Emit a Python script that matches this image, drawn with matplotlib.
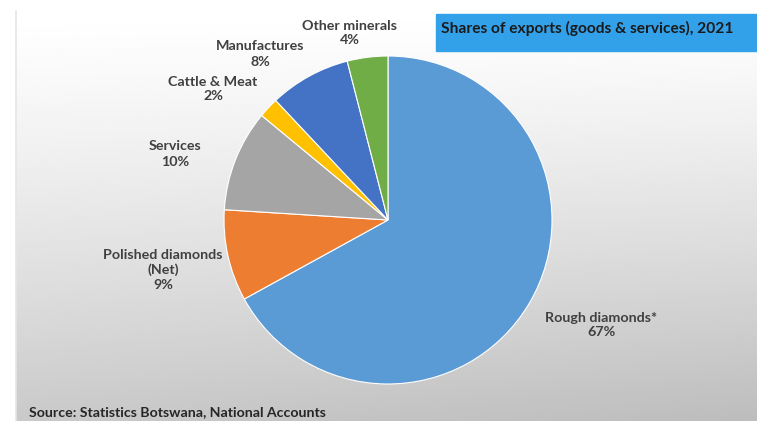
import numpy as np
import matplotlib.pyplot as plt
from matplotlib.patches import Rectangle

plt.rcParams['font.family'] = ['Lato', 'DejaVu Sans']

# export shares 2021, clockwise from 12 o'clock
sectors = ['Rough diamonds*', 'Polished diamonds\n(Net)', 'Services',
           'Cattle & Meat', 'Manufactures', 'Other minerals']
shares = [67, 9, 10, 2, 8, 4]
colors = ['#5B9BD5', '#ED7D31', '#A5A5A5', '#FFC000', '#4472C4', '#70AD47']

W, H = 757, 421
fig = plt.figure(figsize=(W / 100, H / 100), dpi=100)

# grey gradient panel behind the chart
bg = fig.add_axes([0, 0, 1, 1])
bg.set_xlim(0, W)
bg.set_ylim(H, 0)
bg.axis('off')
yy, xx = np.mgrid[0:1:200j, 0:1:200j]
shade = 1.0 - 0.21 * yy ** 1.2 - 0.05 * xx * yy
bg.imshow(shade, cmap='gray', vmin=0, vmax=1, extent=[16, W, H, 11],
          aspect='auto', interpolation='bilinear')
bg.plot([16, 16], [11, H], color='#e6e6e6', lw=1.2)

# title box
bg.add_patch(Rectangle((436, 14), 321, 37, color='#33A1EA'))
bg.text(441, 28, 'Shares of exports (goods & services), 2021', fontsize=11.2,
        fontweight='bold', color='#1a1a1a', va='center', ha='left')

bg.text(29, 412, 'Source: Statistics Botswana, National Accounts', fontsize=10.2,
        fontweight='bold', color='#262626', va='center', ha='left')

# pie, centre (388, 220), radius 164 px
r = 164
ax = fig.add_axes([(388 - r) / W, (H - 220 - r) / H, 2 * r / W, 2 * r / H])
ax.pie(shares, colors=colors, startangle=90, counterclock=False,
       wedgeprops=dict(edgecolor='white', linewidth=0.8))
ax.set_xlim(-1, 1)
ax.set_ylim(-1, 1)
ax.set_aspect('auto')

label_pos = [(601, 325), (163, 270), (175, 154), (213, 89), (260, 54), (350, 33)]
for name, val, (x, y) in zip(sectors, shares, label_pos):
    bg.text(x, y, f'{name}\n{val}%', fontsize=10.3, fontweight='bold',
            color='#404040', ha='center', va='center', linespacing=1.3)

fig.savefig('out.png', dpi=100)
